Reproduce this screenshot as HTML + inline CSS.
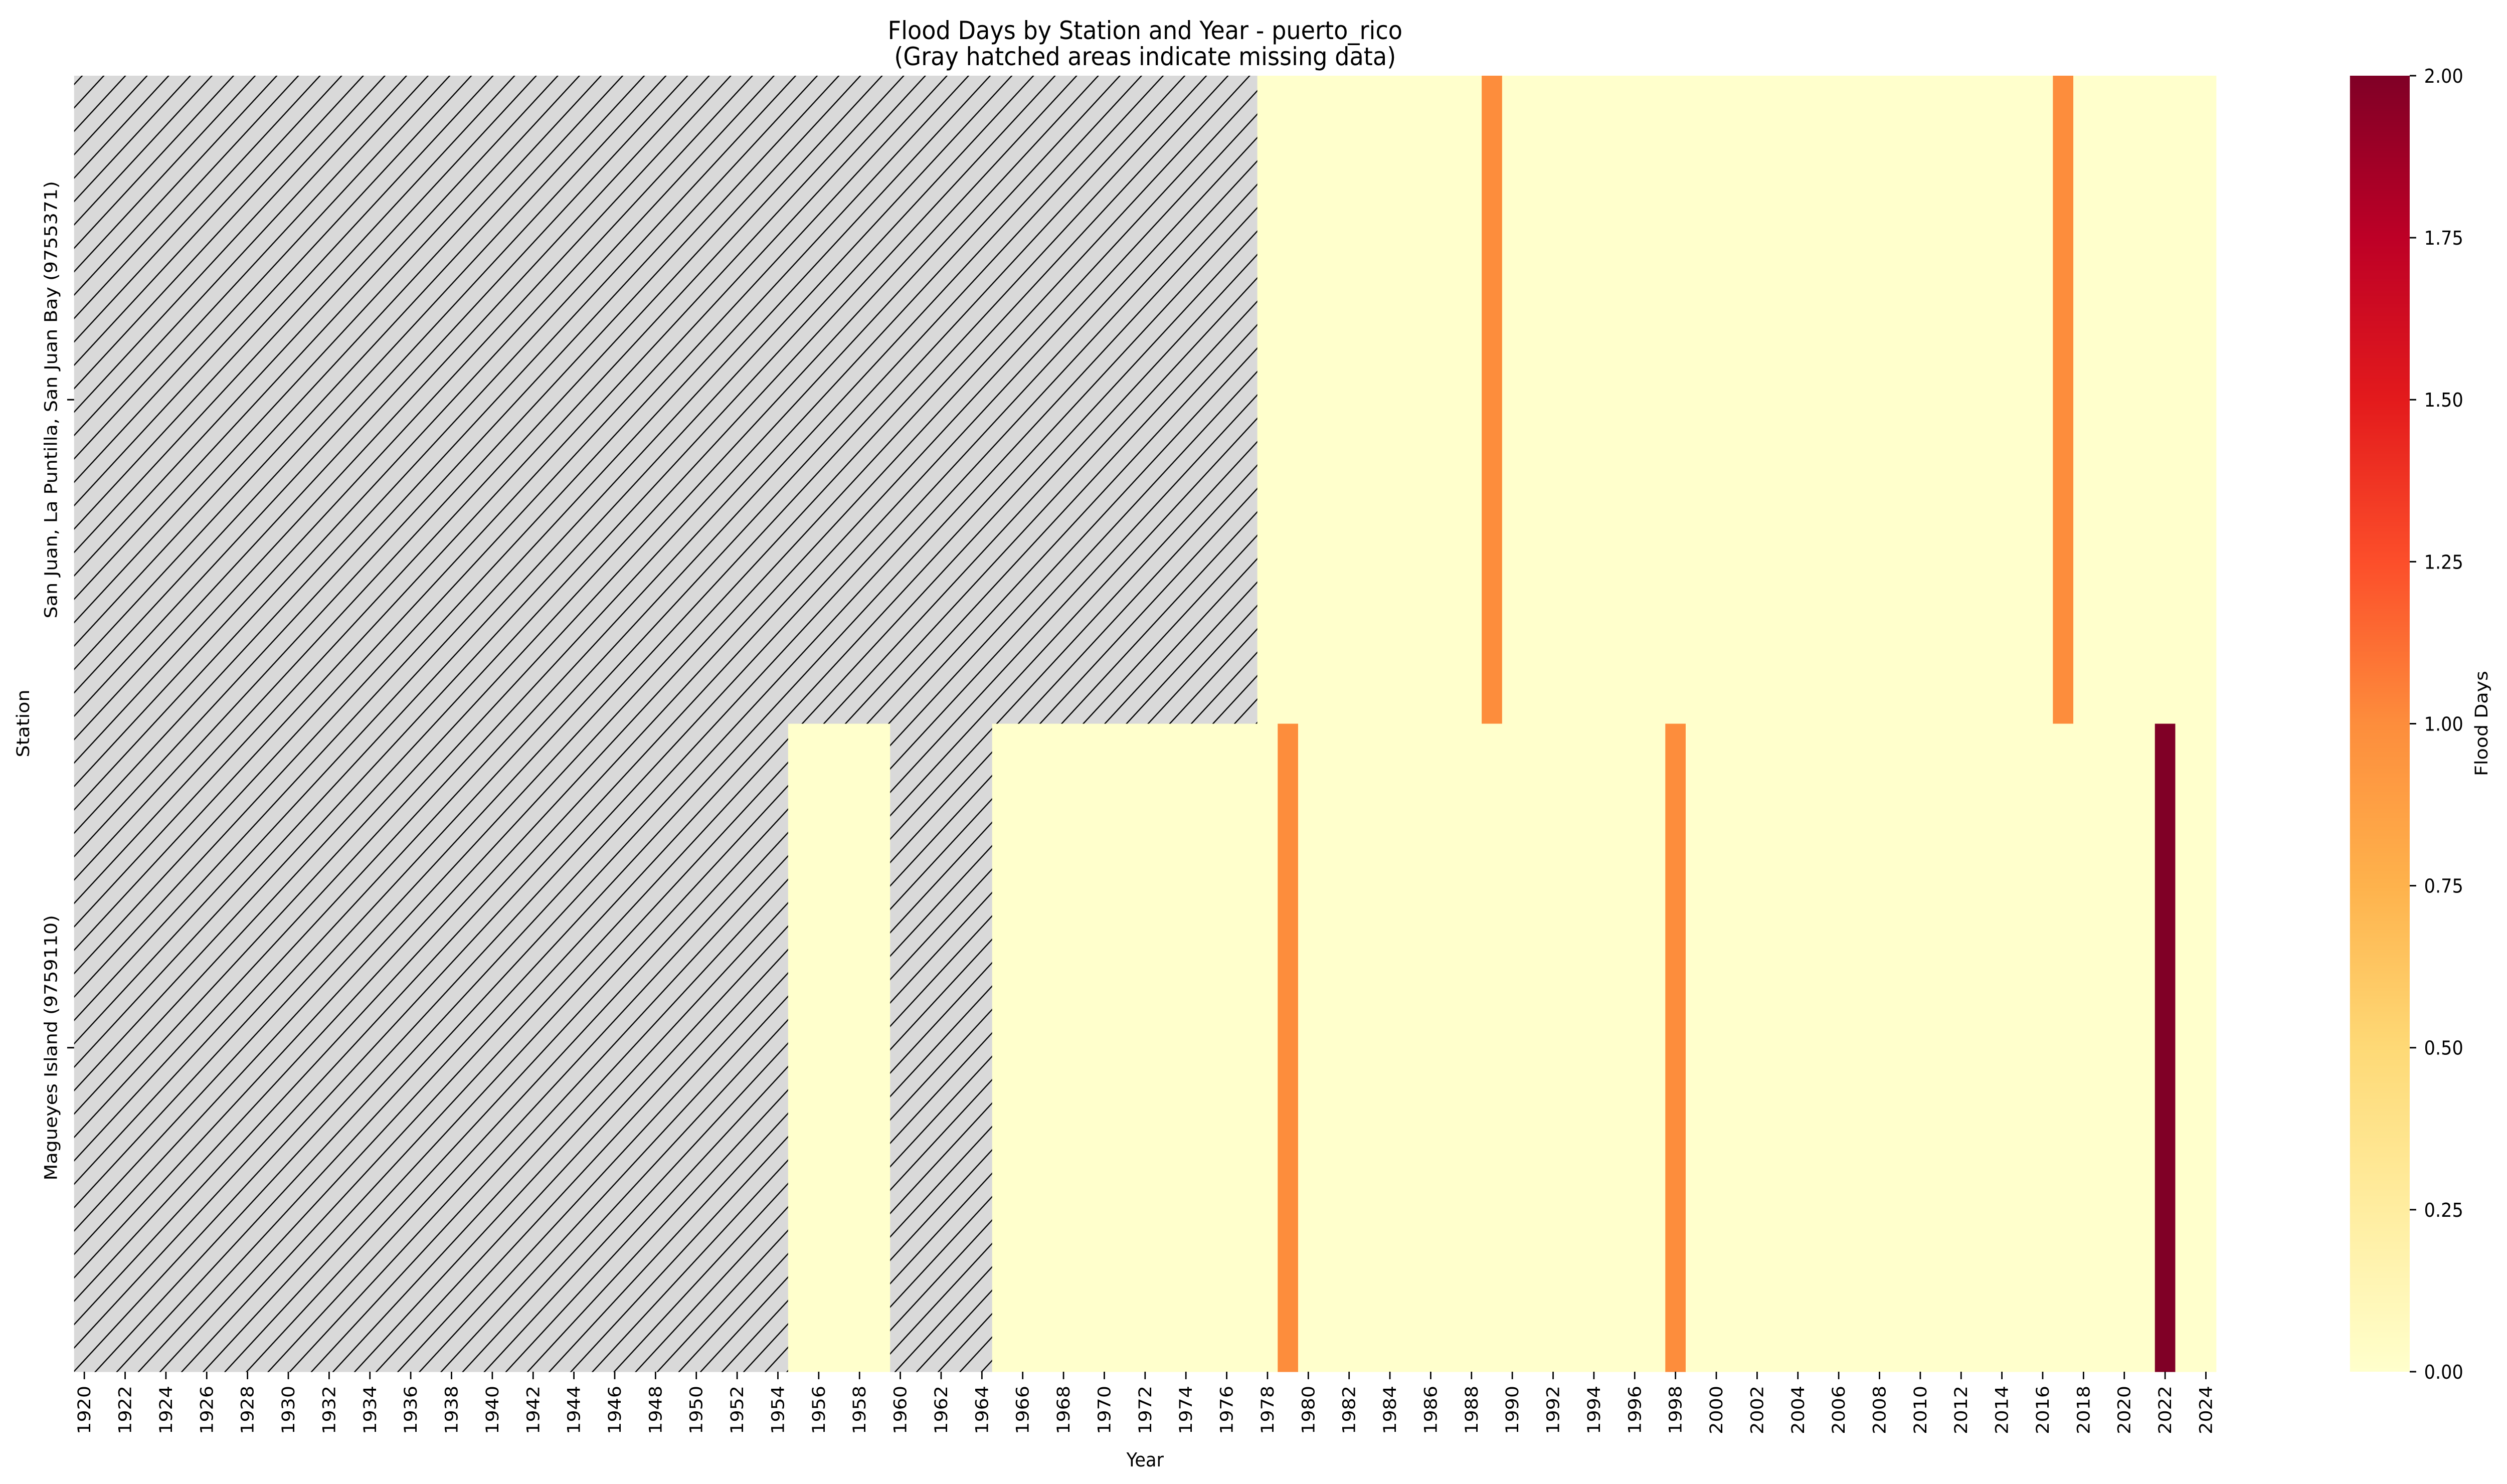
<!DOCTYPE html>
<html><head><meta charset="utf-8">
<style>html,body{margin:0;padding:0;background:#fff;overflow:hidden;width:100vw;height:100vh}svg{display:block;width:100vw;height:100vh}text{font-family:"DejaVu Sans","Liberation Sans",sans-serif;fill:#000}</style>
</head><body>
<svg id="chart" viewBox="0 0 5412 2960" preserveAspectRatio="none" xmlns="http://www.w3.org/2000/svg">
<defs>
<pattern id="hatch" patternUnits="userSpaceOnUse" width="33" height="33" patternTransform="rotate(45)">
<rect width="33" height="33" fill="#d9d9d9"/>
<line x1="0" y1="0" x2="0" y2="33" stroke="#000" stroke-width="5"/>
</pattern>
<linearGradient id="cbgrad" x1="0" y1="1" x2="0" y2="0">
<stop offset="0" stop-color="#ffffcc"/><stop offset="0.125" stop-color="#ffeda0"/><stop offset="0.25" stop-color="#fed976"/><stop offset="0.375" stop-color="#feb24c"/><stop offset="0.5" stop-color="#fd8d3c"/><stop offset="0.625" stop-color="#fc4e2a"/><stop offset="0.75" stop-color="#e31a1c"/><stop offset="0.875" stop-color="#bd0026"/><stop offset="1" stop-color="#800026"/>
</linearGradient>
</defs>
<text x="2472" y="78" font-size="50" text-anchor="middle">Flood Days by Station and Year - puerto_rico</text>
<text x="2472" y="130" font-size="50" text-anchor="middle">(Gray hatched areas indicate missing data)</text>
<g id="cells"></g>
<g id="xticks"></g>
<g id="yticks"></g>
<text x="2472" y="2925" font-size="38" text-anchor="middle">Year</text>
<text x="0" y="0" font-size="38" text-anchor="middle" transform="translate(63,1443) rotate(-90)">Station</text>
<rect x="5073" y="151" width="129" height="2585" fill="url(#cbgrad)"/>
<g id="cbticks"></g>
<text x="0" y="0" font-size="38" text-anchor="middle" transform="translate(5370,1443) rotate(-90)">Flood Days</text>
</svg>
<script>
const years = [];
for (let y = 1920; y <= 2024; y++) years.push(y);
const stations = ["San Juan, La Puntilla, San Juan Bay (9755371)", "Magueyes Island (9759110)"];
// null = missing data
const sanJuanStart = 1978;
const sanJuanFlood = {1989: 1, 2017: 1};
const magueyesRanges = [[1955, 1959], [1965, 2024]];
const magueyesFlood = {1979: 1, 1998: 1, 2022: 2};
const cbTickValues = [0, 0.25, 0.5, 0.75, 1.0, 1.25, 1.5, 1.75, 2.0];

function rowSanJuan(y){ if (y < sanJuanStart) return null; return sanJuanFlood[y] || 0; }
function rowMagueyes(y){ const ok = magueyesRanges.some(r => y >= r[0] && y <= r[1]); if (!ok) return null; return magueyesFlood[y] || 0; }
const values = [years.map(rowSanJuan), years.map(rowMagueyes)];

const NS = "http://www.w3.org/2000/svg";
const X0 = 160, X1 = 4784, Y0 = 151, Y1 = 2736;
const vmin = 0, vmax = 2;
const cw = (X1 - X0) / years.length, rh = (Y1 - Y0) / stations.length;
const xPos = i => X0 + i * cw;
const yPos = j => Y0 + j * rh;
const cbY = v => Y1 - (v - vmin) / (vmax - vmin) * (Y1 - Y0);
const stops = ["#ffffcc","#ffeda0","#fed976","#feb24c","#fd8d3c","#fc4e2a","#e31a1c","#bd0026","#800026"];
function hex(h){return [1,3,5].map(i=>parseInt(h.substr(i,2),16));}
function color(v){
  const t = Math.max(0, Math.min(1, (v - vmin)/(vmax - vmin))) * (stops.length - 1);
  const i = Math.min(Math.floor(t), stops.length - 2), f = t - i;
  const a = hex(stops[i]), b = hex(stops[i+1]);
  return "rgb(" + a.map((c,k)=>Math.round(c + (b[k]-c)*f)).join(",") + ")";
}
function mk(tag, attrs){ const e = document.createElementNS(NS, tag); for (const k in attrs) e.setAttribute(k, attrs[k]); return e; }

const cells = document.getElementById("cells");
values.forEach((row, j) => {
  row.forEach((v, i) => {
    const r = mk("rect", {x: xPos(i), y: yPos(j), width: cw + 0.6, height: rh + 0.6, fill: v === null ? "url(#hatch)" : color(v)});
    
    
    cells.appendChild(r);
  });
});

const xt = document.getElementById("xticks");
years.forEach((y, i) => {
  if ((y - 1920) % 2 !== 0) return;
  const cx = xPos(i) + cw/2;
  const l = mk("line", {x1: cx, y1: Y1, x2: cx, y2: Y1 + 15, stroke: "#000", "stroke-width": 3});
  
  
  xt.appendChild(l);
  const t = mk("text", {x: 0, y: 0, "font-size": 38, "text-anchor": "end", transform: "translate(" + (cx + 13) + "," + (Y1 + 28) + ") rotate(-90)"});
  t.textContent = y;
  
  
  xt.appendChild(t);
});

const yt = document.getElementById("yticks");
stations.forEach((s, j) => {
  const cy = yPos(j) + rh/2;
  const l = mk("line", {x1: X0, y1: cy, x2: X0 - 15, y2: cy, stroke: "#000", "stroke-width": 3});
  
  
  yt.appendChild(l);
  const t = mk("text", {x: 0, y: 0, "font-size": 38, "text-anchor": "middle", transform: "translate(123," + cy + ") rotate(-90)"});
  t.textContent = s;
  
  
  yt.appendChild(t);
});

const cbt = document.getElementById("cbticks");
cbTickValues.forEach(v => {
  const y = cbY(v);
  const l = mk("line", {x1: 5202, y1: y, x2: 5216, y2: y, stroke: "#000", "stroke-width": 3});
  
  
  cbt.appendChild(l);
  const t = mk("text", {x: 5233, y: y + 14, "font-size": 38});
  t.textContent = v.toFixed(2);
  
  
  cbt.appendChild(t);
});
</script>
</body></html>
